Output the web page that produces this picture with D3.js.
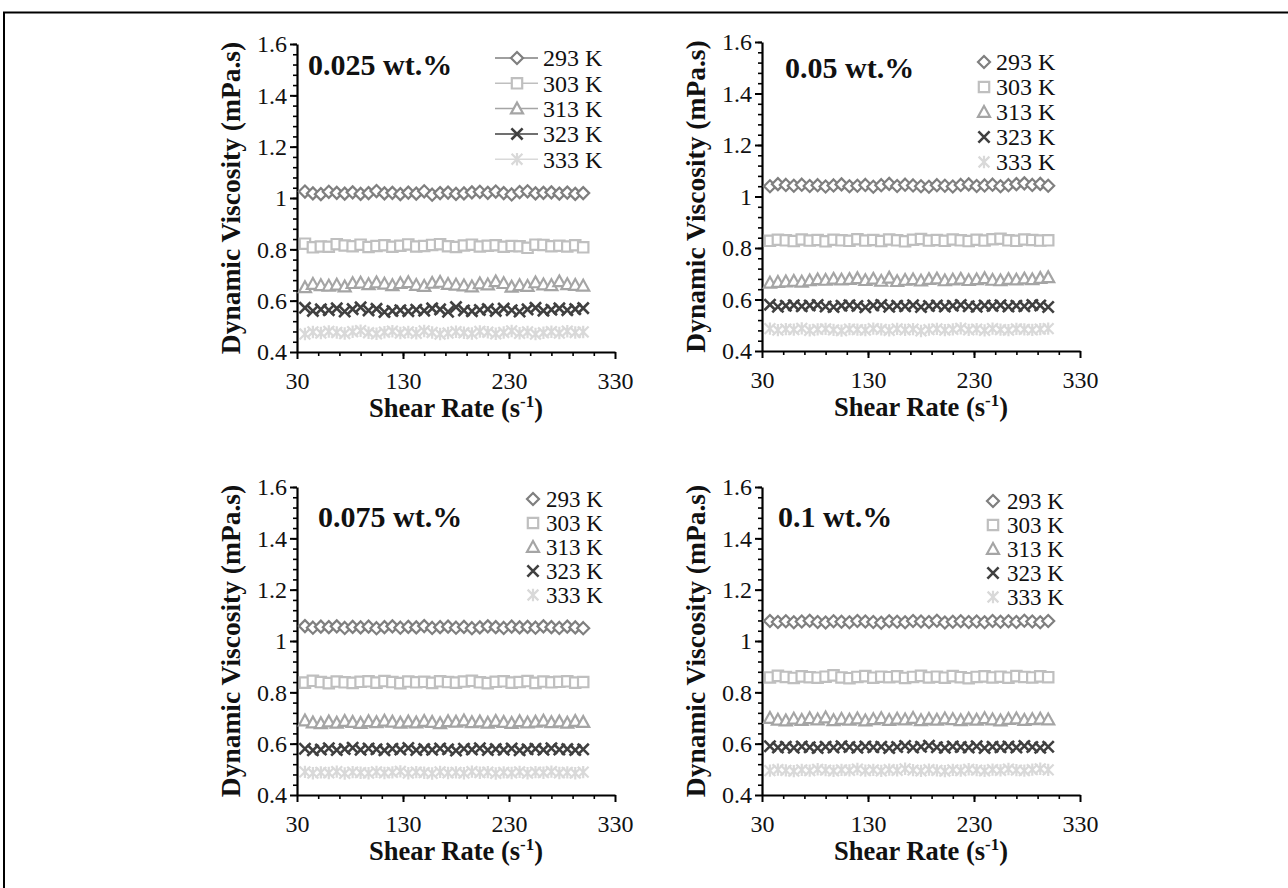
<!DOCTYPE html>
<html>
<head>
<meta charset="utf-8">
<script src="https://cdn.jsdelivr.net/npm/d3@7"></script>
<style>
body{margin:0;background:#fff;}
text{font-family:"Liberation Serif","Times New Roman",serif;fill:#111;}
</style>
</head>
<body>
<svg id="chart" width="1288" height="888"></svg>
<script>
// x: shear rate (1/s), same for every series
var shearRate = [37.5,45,52.5,60,67.5,75,82.5,90,97.5,105,112.5,120,127.5,135,142.5,150,157.5,165,172.5,180,187.5,195,202.5,210,217.5,225,232.5,240,247.5,255,262.5,270,277.5,285,292.5,300];
var tempLabels = ["293 K","303 K","313 K","323 K","333 K"];
var panelTitles = ["0.025 wt.%","0.05 wt.%","0.075 wt.%","0.1 wt.%"];
var yTicks = [0.4,0.6,0.8,1,1.2,1.4,1.6];
var xTicks = [30,130,230,330];

// 0.025 wt.%
var v025_293 = [1.025,1.018,1.015,1.024,1.020,1.017,1.022,1.016,1.019,1.027,1.018,1.020,1.015,1.021,1.017,1.026,1.013,1.019,1.021,1.016,1.018,1.022,1.024,1.020,1.025,1.019,1.014,1.023,1.026,1.018,1.020,1.022,1.017,1.021,1.016,1.019];
var v025_303 = [0.822,0.808,0.811,0.810,0.820,0.815,0.812,0.818,0.809,0.813,0.816,0.810,0.814,0.819,0.811,0.813,0.817,0.820,0.812,0.809,0.815,0.818,0.811,0.814,0.816,0.810,0.813,0.812,0.806,0.818,0.817,0.812,0.814,0.811,0.816,0.808];
var v025_313 = [0.652,0.665,0.660,0.658,0.662,0.655,0.668,0.670,0.664,0.671,0.666,0.660,0.668,0.672,0.661,0.657,0.669,0.673,0.665,0.662,0.659,0.655,0.667,0.663,0.675,0.668,0.654,0.660,0.657,0.671,0.663,0.660,0.675,0.664,0.661,0.658];
var v025_323 = [0.572,0.560,0.566,0.563,0.570,0.558,0.567,0.574,0.562,0.568,0.556,0.560,0.563,0.559,0.565,0.561,0.570,0.566,0.557,0.575,0.562,0.559,0.564,0.567,0.560,0.569,0.563,0.558,0.566,0.572,0.561,0.565,0.570,0.563,0.567,0.571];
var v025_333 = [0.470,0.478,0.474,0.480,0.476,0.472,0.479,0.483,0.475,0.471,0.477,0.481,0.474,0.478,0.473,0.482,0.476,0.470,0.474,0.479,0.475,0.472,0.480,0.477,0.471,0.476,0.482,0.473,0.478,0.470,0.475,0.479,0.474,0.481,0.476,0.478];
// 0.05 wt.%
var v05_293 = [1.040,1.048,1.045,1.042,1.046,1.041,1.044,1.039,1.043,1.047,1.040,1.042,1.045,1.038,1.044,1.049,1.041,1.046,1.043,1.040,1.038,1.044,1.042,1.039,1.045,1.047,1.041,1.043,1.046,1.040,1.044,1.048,1.051,1.045,1.049,1.042];
var v05_303 = [0.828,0.832,0.830,0.827,0.833,0.829,0.831,0.826,0.832,0.830,0.828,0.834,0.829,0.831,0.827,0.833,0.830,0.826,0.832,0.835,0.829,0.831,0.828,0.833,0.830,0.827,0.832,0.829,0.834,0.836,0.830,0.828,0.833,0.831,0.829,0.830];
var v05_313 = [0.665,0.668,0.670,0.672,0.669,0.674,0.678,0.676,0.680,0.677,0.679,0.682,0.675,0.680,0.672,0.684,0.671,0.676,0.678,0.673,0.679,0.681,0.674,0.677,0.680,0.675,0.678,0.682,0.676,0.674,0.679,0.677,0.681,0.678,0.683,0.686];
var v05_323 = [0.580,0.572,0.576,0.578,0.574,0.577,0.579,0.573,0.571,0.576,0.578,0.575,0.570,0.577,0.579,0.572,0.576,0.574,0.578,0.571,0.575,0.577,0.573,0.576,0.579,0.574,0.572,0.577,0.575,0.578,0.573,0.576,0.574,0.579,0.577,0.571];
var v05_333 = [0.487,0.481,0.485,0.483,0.488,0.480,0.484,0.486,0.482,0.479,0.485,0.483,0.481,0.487,0.484,0.480,0.486,0.482,0.485,0.478,0.483,0.486,0.481,0.484,0.488,0.482,0.485,0.480,0.487,0.483,0.481,0.486,0.484,0.482,0.485,0.487];
// 0.075 wt.%
var v075_293 = [1.058,1.052,1.056,1.054,1.057,1.051,1.055,1.053,1.056,1.050,1.054,1.057,1.052,1.055,1.053,1.058,1.051,1.054,1.056,1.052,1.055,1.050,1.053,1.057,1.054,1.051,1.056,1.053,1.055,1.052,1.057,1.054,1.051,1.056,1.053,1.050];
var v075_303 = [0.838,0.845,0.840,0.836,0.842,0.839,0.837,0.841,0.843,0.838,0.844,0.840,0.836,0.842,0.839,0.841,0.837,0.843,0.840,0.838,0.842,0.845,0.839,0.836,0.841,0.843,0.838,0.840,0.844,0.837,0.842,0.839,0.841,0.843,0.838,0.840];
var v075_313 = [0.690,0.682,0.679,0.686,0.681,0.688,0.684,0.680,0.687,0.683,0.689,0.685,0.681,0.686,0.682,0.688,0.684,0.679,0.687,0.685,0.690,0.683,0.686,0.681,0.688,0.684,0.680,0.687,0.682,0.685,0.689,0.683,0.686,0.681,0.688,0.684];
var v075_323 = [0.580,0.574,0.577,0.582,0.575,0.579,0.584,0.576,0.581,0.578,0.574,0.580,0.577,0.583,0.575,0.579,0.576,0.581,0.578,0.573,0.580,0.577,0.582,0.575,0.579,0.576,0.581,0.574,0.578,0.580,0.576,0.582,0.577,0.579,0.575,0.578];
var v075_333 = [0.490,0.485,0.488,0.486,0.491,0.484,0.489,0.487,0.485,0.490,0.486,0.488,0.492,0.485,0.489,0.487,0.484,0.490,0.486,0.488,0.485,0.491,0.487,0.489,0.484,0.488,0.486,0.490,0.485,0.489,0.487,0.491,0.486,0.488,0.485,0.489];
// 0.1 wt.%
var v1_293 = [1.078,1.074,1.077,1.073,1.076,1.079,1.074,1.072,1.077,1.075,1.073,1.078,1.076,1.074,1.071,1.077,1.075,1.073,1.078,1.076,1.074,1.079,1.072,1.075,1.077,1.074,1.076,1.073,1.078,1.075,1.077,1.074,1.079,1.076,1.073,1.078];
var v1_303 = [0.858,0.864,0.860,0.856,0.862,0.859,0.857,0.861,0.866,0.858,0.855,0.860,0.863,0.857,0.861,0.859,0.862,0.856,0.860,0.864,0.858,0.861,0.857,0.863,0.859,0.855,0.860,0.862,0.858,0.861,0.857,0.863,0.860,0.858,0.862,0.859];
var v1_313 = [0.700,0.693,0.690,0.697,0.692,0.699,0.694,0.702,0.691,0.696,0.693,0.698,0.690,0.695,0.699,0.692,0.697,0.694,0.700,0.691,0.696,0.693,0.698,0.695,0.691,0.697,0.693,0.699,0.694,0.690,0.696,0.698,0.692,0.695,0.697,0.694];
var v1_323 = [0.590,0.585,0.588,0.584,0.589,0.586,0.583,0.588,0.585,0.590,0.587,0.584,0.589,0.586,0.588,0.583,0.587,0.591,0.585,0.588,0.592,0.586,0.584,0.589,0.587,0.585,0.590,0.583,0.588,0.586,0.589,0.585,0.591,0.587,0.584,0.588];
var v1_333 = [0.495,0.499,0.496,0.493,0.498,0.495,0.500,0.497,0.494,0.498,0.496,0.501,0.495,0.498,0.494,0.499,0.496,0.502,0.497,0.494,0.499,0.496,0.493,0.498,0.495,0.500,0.497,0.494,0.499,0.496,0.501,0.497,0.495,0.499,0.502,0.498];

// marker style per temperature
var markerShapes = ["diamond","square","triangle","x","star"];
var markerColors = ["#7f7f7f","#bfbfbf","#a5a5a5","#404040","#d9d9d9"];

// layout of the four panels (pixels)
var panels = [
    {title: panelTitles[0], series: [v025_293,v025_303,v025_313,v025_323,v025_333],
     x0: 297, x1: 615, yTop: 44, yBot: 352, titleX: 308, titleY: 75,
     leg: {mx: 517, tx: 543, y0: 58, dy: 25.3, fs: 24, lines: true}},
    {title: panelTitles[1], series: [v05_293,v05_303,v05_313,v05_323,v05_333],
     x0: 762, x1: 1080, yTop: 42, yBot: 351, titleX: 785, titleY: 78,
     leg: {mx: 984, tx: 996, y0: 62, dy: 25, fs: 24, lines: false}},
    {title: panelTitles[2], series: [v075_293,v075_303,v075_313,v075_323,v075_333],
     x0: 297, x1: 615, yTop: 487, yBot: 795, titleX: 318, titleY: 527,
     leg: {mx: 533, tx: 546, y0: 499, dy: 24, fs: 23, lines: false}},
    {title: panelTitles[3], series: [v1_293,v1_303,v1_313,v1_323,v1_333],
     x0: 762, x1: 1080, yTop: 487, yBot: 795, titleX: 778, titleY: 527,
     leg: {mx: 993, tx: 1007, y0: 501, dy: 24, fs: 23, lines: false}}
];

var svg = d3.select("#chart");

// outer frame
svg.append("rect")
    .attr("x", 4).attr("y", 12.5)
    .attr("width", 1300).attr("height", 900)
    .attr("fill", "none")
    .attr("stroke", "#000")
    .attr("stroke-width", 2);

// marker outline for a shape, centred at 0,0
function markerPath(shape, r) {
    switch (shape) {
        case "diamond":
            return "M0," + (-r) + "L" + r + ",0L0," + r + "L" + (-r) + ",0Z";
        case "square":
            return "M" + (-r) + "," + (-r) + "H" + r + "V" + r + "H" + (-r) + "Z";
        case "triangle":
            return "M0," + (-r) + "L" + r + "," + (r * 0.8) + "L" + (-r) + "," + (r * 0.8) + "Z";
        case "x":
            return "M" + (-r) + "," + (-r) + "L" + r + "," + r + "M" + r + "," + (-r) + "L" + (-r) + "," + r;
        default:
            return "M" + (-r) + "," + (-r) + "L" + r + "," + r + "M" + r + "," + (-r) + "L" + (-r) + "," + r +
                "M0," + (-r * 1.15) + "L0," + (r * 1.15);
    }
}
var markerR = {diamond: 6, square: 5.2, triangle: 6, x: 5.6, star: 5.4};

function drawMarkers(g, shape, color) {
    g.attr("d", markerPath(shape, markerR[shape]))
        .attr("fill", (shape === "x" || shape === "star") ? "none" : "#fff")
        .attr("stroke", color)
        .attr("stroke-width", shape === "x" ? 2.6 : 2.2);
}

function drawPanel(p) {
    var x = d3.scaleLinear().domain([30, 330]).range([p.x0, p.x1]);
    var y = d3.scaleLinear().domain([0.4, 1.6]).range([p.yBot, p.yTop]);
    var g = svg.append("g");

    // minor ticks
    g.append("g")
        .attr("transform", "translate(" + p.x0 + ",0)")
        .call(d3.axisLeft(y).tickValues(d3.range(0.44, 1.6, 0.04)).tickSize(4).tickFormat(""))
        .call(function (a) { a.select(".domain").remove(); a.selectAll("line").attr("stroke-width", 1.6); });
    g.append("g")
        .attr("transform", "translate(0," + p.yBot + ")")
        .call(d3.axisBottom(x).tickValues(d3.range(50, 330, 20)).tickSize(4).tickFormat(""))
        .call(function (a) { a.select(".domain").remove(); a.selectAll("line").attr("stroke-width", 1.6); });

    // major axes
    var ya = g.append("g")
        .attr("transform", "translate(" + p.x0 + ",0)")
        .call(d3.axisLeft(y).tickValues(yTicks).tickSize(7).tickSizeOuter(0).tickPadding(3)
            .tickFormat(function (d) { return String(d); }));
    var xa = g.append("g")
        .attr("transform", "translate(0," + p.yBot + ")")
        .call(d3.axisBottom(x).tickValues(xTicks).tickSize(7).tickSizeOuter(0).tickPadding(13));
    [ya, xa].forEach(function (a) {
        a.select(".domain").attr("stroke-width", 2.2);
        a.selectAll(".tick line").attr("stroke-width", 2);
        a.selectAll("text")
            .style("font-family", "'Liberation Serif', serif")
            .style("font-size", "24px")
            .attr("fill", "#111");
    });

    // axis titles
    g.append("text")
        .attr("transform", "translate(" + (p.x0 - 67) + "," + ((p.yTop + p.yBot) / 2) + ") rotate(-90)")
        .attr("text-anchor", "middle")
        .attr("dy", "0.35em")
        .attr("font-size", 27.5)
        .attr("font-weight", "bold")
        .text("Dynamic Viscosity (mPa.s)");
    var xt = g.append("text")
        .attr("x", (p.x0 + p.x1) / 2)
        .attr("y", p.yBot + 65)
        .attr("text-anchor", "middle")
        .attr("font-size", 26.5)
        .attr("font-weight", "bold");
    xt.append("tspan").text("Shear Rate (s");
    xt.append("tspan").attr("dy", -10).attr("font-size", 17).text("-1");
    xt.append("tspan").attr("dy", 10).text(")");

    // panel title
    g.append("text")
        .attr("x", p.titleX)
        .attr("y", p.titleY)
        .attr("font-size", 30)
        .attr("font-weight", "bold")
        .text(p.title);

    // data markers
    p.series.forEach(function (vals, i) {
        g.append("g")
            .selectAll("path")
            .data(vals)
            .enter()
            .append("path")
            .attr("transform", function (d, j) {
                return "translate(" + x(shearRate[j]) + "," + y(d) + ")";
            })
            .call(drawMarkers, markerShapes[i], markerColors[i]);
    });

    // legend
    var lg = g.append("g");
    tempLabels.forEach(function (lab, i) {
        var cy = p.leg.y0 + i * p.leg.dy;
        if (p.leg.lines) {
            lg.append("line")
                .attr("x1", p.leg.mx - 22).attr("x2", p.leg.mx + 21)
                .attr("y1", cy).attr("y2", cy)
                .attr("stroke", markerColors[i])
                .attr("stroke-width", 1.5);
        }
        lg.append("path")
            .attr("transform", "translate(" + p.leg.mx + "," + cy + ")")
            .call(drawMarkers, markerShapes[i], markerColors[i]);
        lg.append("text")
            .attr("x", p.leg.tx)
            .attr("y", cy)
            .attr("dy", "0.35em")
            .attr("font-size", p.leg.fs)
            .text(lab);
    });
}

panels.forEach(drawPanel);
</script>
</body>
</html>
